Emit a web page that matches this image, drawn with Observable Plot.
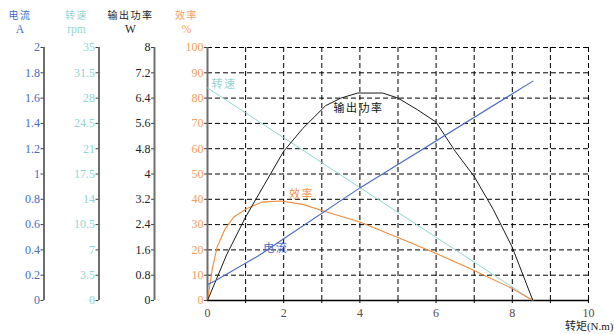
<!DOCTYPE html>
<html><head><meta charset="utf-8">
<script src="https://cdn.jsdelivr.net/npm/d3@7"></script>
<script src="https://cdn.jsdelivr.net/npm/@observablehq/plot@0.6"></script>
<style>body{margin:0;background:#fff;} svg{display:block;}</style>
</head><body><div id="chart"></div>
<script>
// ---- tick values (percent of each axis) and tick labels ----
const yTicks = [0,10,20,30,40,50,60,70,80,90,100];
const currentTicks = ["0","0.2","0.4","0.6","0.8","1","1.2","1.4","1.6","1.8","2"];
const speedTicks = ["0","3.5","7","10.5","14","17.5","21","24.5","28","31.5","35"];
const powerTicks = ["0","0.8","1.6","2.4","3.2","4","4.8","5.6","6.4","7.2","8"];
const effTicks = ["0","10","20","30","40","50","60","70","80","90","100"];
const xTickLabels = [0,2,4,6,8,10];
const xMinorTicks = [1,2,3,4,5,6,7,8,9,10];
const currentMax = 2, speedMax = 35, powerMax = 8, effMax = 100;

// ---- series (torque N.m vs value in own unit) ----
const currentTorque = [0,0.25,1.35,2,4,8.54];
const currentAmps   = [0.124,0.164,0.356,0.488,0.89,1.734];
const speedTorque = [0,8.54];
const speedRpm    = [29.4,0];
const powerTorque = [0,0.5,1,1.5,2,2.5,3.1,3.5,3.94,4.6,5,5.5,6,6.5,7,7.5,8,8.54];
const powerW      = [0,1.44,2.64,3.68,4.72,5.44,6.16,6.4,6.56,6.56,6.4,6.04,5.64,4.72,3.92,2.88,1.68,0];
const effTorque = [0,0.12,0.25,0.45,0.69,1.05,1.44,1.92,2.5,3,4,5.3,6,7,8,8.54];
const effPct    = [0,12,21,28,33,36.5,38.9,39.3,38,35.6,31,23,18.6,11.9,4.7,0];

// ---- series labels ----
const labelNames = ["转速","输出功率","效率","电流"];
const labelTorque = [0.43,3.96,2.47,1.79];
const labelLevel = [85.4,75.9,41.9,20.6];

// ---- headers ----
const headerNames = ["电流","转速","输出功率","效率"];
const headerUnits = ["A","rpm","W","%"];

const C_CUR = "#4a6bc4", C_SPD = "#8fd6d0", C_PWR = "#1a1a1a", C_EFF = "#f5a05a";
const axisColors = [C_CUR, C_SPD, "#222", C_EFF];
const axisOffsets = [-163.5, -108.5, -53, 0];
const headerOffsets = [-24, -22.5, -24, -21];
const axisTickLabels = [currentTicks, speedTicks, powerTicks, effTicks];
const labelColors = [C_SPD, "#111", "#f0924a", C_CUR];

const toRows = (xs, vs, max) => xs.map((x, i) => ({x, y: vs[i] / max * 100}));
const curRows = toRows(currentTorque, currentAmps, currentMax);
const spdRows = toRows(speedTorque, speedRpm, speedMax);
const pwrRows = toRows(powerTorque, powerW, powerMax);
const effRows = toRows(effTorque, effPct, effMax);

const FONT = "'Liberation Serif','Noto Sans CJK SC',serif";
const CJK = "'Noto Sans CJK SC','Liberation Serif',sans-serif";

const marks = [];
// grid
marks.push(Plot.ruleY(yTicks.slice(1), {x1: 0, x2: 10, stroke: "#000", strokeWidth: 1, strokeDasharray: "5,3"}));
marks.push(Plot.ruleX(xMinorTicks, {y1: 0, y2: 100, stroke: "#000", strokeWidth: 1, strokeDasharray: "5,3"}));
// y axes
axisOffsets.forEach((dx, k) => {
  const labels = axisTickLabels[k];
  marks.push(Plot.ruleX([0], {y1: 0, y2: 100, dx, stroke: "#6e6e6e", strokeWidth: 2}));
  marks.push(Plot.axisY(yTicks, {anchor: "left", dx, tickSize: 3, tickPadding: 1, label: null,
    stroke: "#444", fill: axisColors[k], fontSize: 12,
    tickFormat: d => labels[yTicks.indexOf(d)]}));
  marks.push(Plot.text([headerNames[k]], {frameAnchor: "top-left", dx: dx + headerOffsets[k], dy: -32,
    textAnchor: "middle", lineAnchor: "middle",
    text: d => d, fill: axisColors[k], fontSize: 10, fontFamily: CJK}));
  marks.push(Plot.text([headerUnits[k]], {frameAnchor: "top-left", dx: dx + headerOffsets[k], dy: -18.5,
    textAnchor: "middle", lineAnchor: "middle",
    text: d => d, fill: axisColors[k], fontSize: 11.5, fontFamily: FONT}));
});
// x axis
marks.push(Plot.ruleY([0], {stroke: "#000", strokeWidth: 1.5}));
marks.push(Plot.axisX(xMinorTicks, {tickSize: 3, stroke: "#000", label: null, tickFormat: () => ""}));
marks.push(Plot.axisX(xTickLabels, {tickSize: 0, tickPadding: 8, label: null, fill: "#5e4a3e", fontSize: 12}));
marks.push(Plot.text(["转矩(N.m)"], {frameAnchor: "bottom-right", dx: 25, dy: 26,
  textAnchor: "end", lineAnchor: "middle",
  text: d => d, fill: "#222", fontSize: 11, fontFamily: FONT}));
// series
marks.push(Plot.line(spdRows, {x: "x", y: "y", stroke: C_SPD, strokeWidth: 1}));
marks.push(Plot.line(effRows, {x: "x", y: "y", stroke: "#f28a3a", strokeWidth: 1.1}));
marks.push(Plot.line(pwrRows, {x: "x", y: "y", stroke: C_PWR, strokeWidth: 1}));
marks.push(Plot.line(curRows, {x: "x", y: "y", stroke: C_CUR, strokeWidth: 1.1}));
// labels
marks.push(Plot.text(labelNames, {x: (d, i) => labelTorque[i], y: (d, i) => labelLevel[i],
  text: d => d, fill: (d, i) => labelColors[i], fontSize: 11, fontFamily: CJK}));

const chart = Plot.plot({
  width: 614, height: 334,
  marginLeft: 207, marginRight: 26, marginTop: 47, marginBottom: 34,
  x: {domain: [0, 10], label: null},
  y: {domain: [0, 100], label: null},
  color: {type: "identity"},
  style: {fontFamily: FONT, fontSize: "12px", background: "#fff"},
  marks
});
d3.select(chart).selectAll("text").filter(function() {
  return /[\u4e00-\u9fff]/.test(this.textContent) && !this.textContent.includes("(");
}).attr("letter-spacing", "1.5");
document.getElementById("chart").append(chart);
</script></body></html>
